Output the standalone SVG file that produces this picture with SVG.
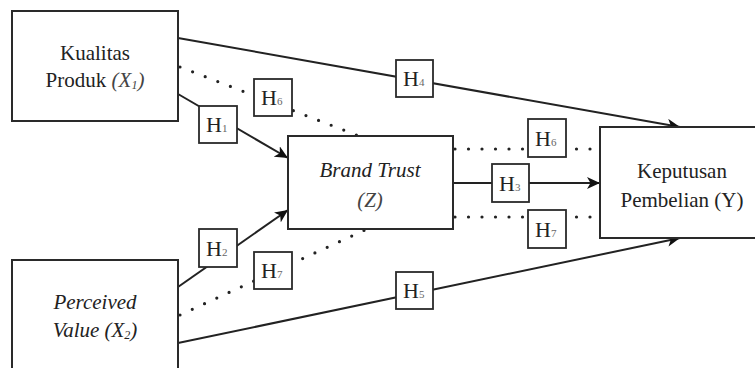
<svg xmlns="http://www.w3.org/2000/svg" width="755" height="368" viewBox="0 0 755 368">
<defs>
<marker id="arr" markerUnits="userSpaceOnUse" markerWidth="14" markerHeight="12" refX="13" refY="6" orient="auto">
<path d="M0,0 L13,6 L0,12 L3.5,6 z" fill="#111"/>
</marker>
</defs>
<rect width="755" height="368" fill="#fff"/>
<g id="connectors" fill="none" stroke="#222">
<g stroke-width="2" marker-end="url(#arr)">
<line x1="178" y1="38" x2="680" y2="127"/>
<line x1="178" y1="343" x2="680" y2="238"/>
<line x1="178" y1="94" x2="288" y2="158"/>
<line x1="178" y1="287" x2="288" y2="210"/>
<line x1="453" y1="183" x2="600" y2="183"/>
</g>
<g stroke-width="3.2" stroke-linecap="round" stroke-dasharray="0 13.5">
<line x1="180" y1="67" x2="359" y2="136"/>
<line x1="180" y1="315" x2="367" y2="229"/>
<line x1="455" y1="149" x2="600" y2="149"/>
<line x1="455" y1="217" x2="600" y2="217"/>
</g>
</g>
<g id="x1">
<rect x="12" y="11" width="166" height="110" fill="#fff" stroke="#2a2a2a" stroke-width="2"/>
<text font-family="Liberation Serif" font-size="21" fill="#222" text-anchor="middle" x="95" y="60">Kualitas</text>
<text font-family="Liberation Serif" font-size="21" fill="#222" text-anchor="middle" x="95" y="87">Produk <tspan font-style="italic" fill="#444">(X<tspan font-size="12" dy="2">1</tspan><tspan dy="-2">)</tspan></tspan></text>
</g>
<g id="x2">
<rect x="12" y="260" width="166" height="112" fill="#fff" stroke="#2a2a2a" stroke-width="2"/>
<text font-family="Liberation Serif" font-size="21" fill="#222" text-anchor="middle" font-style="italic" x="95" y="309">Perceived</text>
<text font-family="Liberation Serif" font-size="21" fill="#222" text-anchor="middle" font-style="italic" x="95" y="337">Value (X<tspan font-size="12" dy="2">2</tspan><tspan dy="-2">)</tspan></text>
</g>
<g id="z">
<rect x="288" y="136" width="165" height="93" fill="#fff" stroke="#2a2a2a" stroke-width="2"/>
<text font-family="Liberation Serif" font-size="21" fill="#222" text-anchor="middle" font-style="italic" x="370" y="177">Brand Trust</text>
<text font-family="Liberation Serif" font-size="21" fill="#444" text-anchor="middle" font-style="italic" x="370" y="207">(Z)</text>
</g>
<g id="y">
<rect x="600" y="127" width="170" height="111" fill="#fff" stroke="#2a2a2a" stroke-width="2"/>
<text font-family="Liberation Serif" font-size="21" fill="#222" text-anchor="middle" x="682" y="178">Keputusan</text>
<text font-family="Liberation Serif" font-size="21" fill="#222" text-anchor="middle" x="682" y="207">Pembelian (Y)</text>
</g>
<g id="labels" fill="#fff" stroke="#2a2a2a" stroke-width="1.8">
<g id="h1"><rect x="199" y="106" width="38" height="37"/><text stroke="none" font-family="Liberation Serif" font-size="22" fill="#222" x="206" y="132">H<tspan font-size="11" fill="#666">1</tspan></text></g>
<g id="h2"><rect x="199" y="229" width="38" height="38"/><text stroke="none" font-family="Liberation Serif" font-size="22" fill="#222" x="206" y="256">H<tspan font-size="11" fill="#666">2</tspan></text></g>
<g id="h3"><rect x="492" y="164" width="37" height="38"/><text stroke="none" font-family="Liberation Serif" font-size="22" fill="#222" x="499" y="191">H<tspan font-size="11" fill="#666">3</tspan></text></g>
<g id="h4"><rect x="396" y="60" width="37" height="37"/><text stroke="none" font-family="Liberation Serif" font-size="22" fill="#222" x="403" y="86">H<tspan font-size="11" fill="#666">4</tspan></text></g>
<g id="h5"><rect x="396" y="272" width="37" height="37"/><text stroke="none" font-family="Liberation Serif" font-size="22" fill="#222" x="403" y="298">H<tspan font-size="11" fill="#666">5</tspan></text></g>
<g id="h6a"><rect x="254" y="79" width="38" height="37"/><text stroke="none" font-family="Liberation Serif" font-size="22" fill="#222" x="261" y="105">H<tspan font-size="11" fill="#666">6</tspan></text></g>
<g id="h6b"><rect x="528" y="119" width="38" height="38"/><text stroke="none" font-family="Liberation Serif" font-size="22" fill="#222" x="535" y="146">H<tspan font-size="11" fill="#666">6</tspan></text></g>
<g id="h7a"><rect x="254" y="252" width="38" height="37"/><text stroke="none" font-family="Liberation Serif" font-size="22" fill="#222" x="261" y="278">H<tspan font-size="11" fill="#666">7</tspan></text></g>
<g id="h7b"><rect x="528" y="210" width="38" height="38"/><text stroke="none" font-family="Liberation Serif" font-size="22" fill="#222" x="535" y="237">H<tspan font-size="11" fill="#666">7</tspan></text></g>
</g>
</svg>
